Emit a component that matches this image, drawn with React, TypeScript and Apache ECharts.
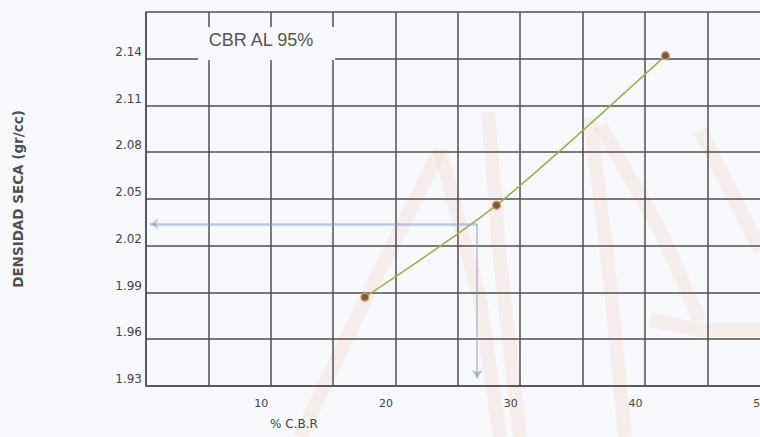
import React, { useEffect, useRef } from "react";
import * as echarts from "echarts";

// Data
const cbrValues = [18.3, 28.85, 42.4];
const densityValues = [1.987, 2.046, 2.142];
const xLabelValues = [10, 20, 30, 40, 50];
const yTickMin = 1.93;
const yTickMax = 2.17;
const yTickStep = 0.03;
const xGridMin = 0.75;
const xGridMax = 55.75;
const xGridStep = 5;
const cbrAt95 = 27.3;
const densityAt95 = 2.034;
const arrowLeftEnd = 1.1;
const arrowBottomEnd = 1.935;

// faint orange watermark strokes (decoration only, pixel space)
const watermark = [
  [[300, 437], [360, 310], [440, 150]],
  [[440, 150], [480, 300], [500, 437]],
  [[488, 112], [500, 260], [520, 437]],
  [[590, 118], [610, 280], [625, 437]],
  [[600, 125], [660, 230], [700, 320]],
  [[700, 130], [730, 190], [760, 250]],
  [[650, 320], [700, 330], [760, 330]],
];

export default function App() {
  const ref = useRef<HTMLDivElement>(null);
  useEffect(() => {
    if (!ref.current) return;
    const chart = echarts.init(ref.current, undefined, { renderer: "svg" });
    const font = "Liberation Sans, Arial, sans-serif";
    const wide = "DejaVu Sans, sans-serif";
    const rows = cbrValues.map((x, i) => [x, densityValues[i]]);
    chart.setOption({
      animation: false,
      backgroundColor: "#f7f8fb",
      grid: { left: 146, top: 12, width: 686, height: 374 },
      xAxis: {
        type: "value",
        min: xGridMin,
        max: xGridMax,
        interval: xGridStep,
        axisLine: { show: true, lineStyle: { color: "#505050", width: 1.5 } },
        axisTick: { show: false },
        axisLabel: {
          customValues: xLabelValues,
          margin: 12,
          fontSize: 11,
          fontFamily: wide,
          color: "#444",
        },
        splitLine: { show: true, lineStyle: { color: "#505050", width: 1.5 } },
      },
      yAxis: {
        type: "value",
        min: yTickMin,
        max: yTickMax,
        interval: yTickStep,
        name: "DENSIDAD SECA (gr/cc)",
        nameLocation: "middle",
        nameRotate: 90,
        nameGap: 121,
        nameTextStyle: { fontSize: 13.5, fontFamily: wide, color: "#505050", fontWeight: "bold" },
        axisLine: { show: true, lineStyle: { color: "#505050", width: 1.5 } },
        axisTick: { show: false },
        axisLabel: {
          margin: 4,
          fontSize: 12,
          fontFamily: wide,
          color: "#444",
          verticalAlign: "bottom",
          lineHeight: 14,
          formatter: (v: number) => (v > 2.155 ? "" : v.toFixed(2)),
        },
        splitLine: { show: true, lineStyle: { color: "#505050", width: 1.5 } },
      },
      graphic: [
        ...watermark.map((pts) => ({
          type: "polyline",
          z: -5,
          silent: true,
          shape: { points: pts },
          style: { stroke: "rgba(250,170,120,0.12)", lineWidth: 14, fill: "none" },
        })),
        {
          type: "rect",
          z: 100,
          shape: { x: 198, y: 27, width: 137, height: 33 },
          style: { fill: "#f7f8fb" },
        },
        {
          type: "text",
          z: 101,
          x: 261,
          y: 40,
          style: {
            text: "CBR AL 95%",
            fontSize: 18,
            fontFamily: font,
            fill: "#555",
            align: "center",
            verticalAlign: "middle",
          },
        },
        {
          type: "text",
          z: 101,
          x: 294,
          y: 424,
          style: {
            text: "% C.B.R",
            fontSize: 12,
            fontFamily: wide,
            fill: "#444",
            align: "center",
            verticalAlign: "middle",
          },
        },
      ],
      series: [
        {
          type: "lines",
          coordinateSystem: "cartesian2d",
          symbol: ["none", "arrow"],
          symbolSize: 8,
          z: 3,
          data: [
            {
              coords: [
                [cbrAt95, densityAt95],
                [arrowLeftEnd, densityAt95],
              ],
              lineStyle: { color: "#7b98cc", width: 2.5 },
            },
            {
              coords: [
                [cbrAt95, densityAt95],
                [cbrAt95, arrowBottomEnd],
              ],
              lineStyle: { color: "#7c88a8", width: 1.6 },
            },
          ],
        },
        {
          type: "line",
          data: rows,
          smooth: 0.25,
          z: 4,
          symbol: "circle",
          symbolSize: 8,
          lineStyle: { color: "#a6ae55", width: 1.6 },
          itemStyle: { color: "#7a5a40", borderColor: "#d99a6c", borderWidth: 1.2 },
        },
      ],
    });
    return () => chart.dispose();
  }, []);
  return (
    <div style={{ position: "absolute", left: 0, top: 0, width: 760, height: 437, overflow: "hidden" }}>
      <div ref={ref} style={{ width: 860, height: 437 }} />
    </div>
  );
}
